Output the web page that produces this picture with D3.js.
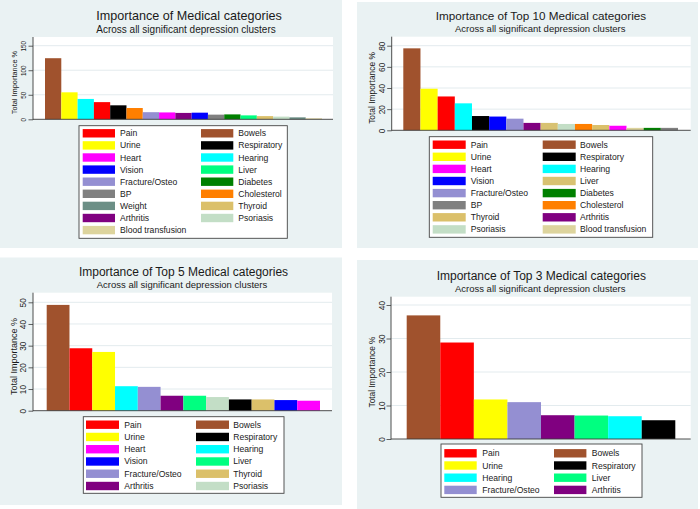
<!DOCTYPE html>
<html><head><meta charset="utf-8">
<script src="https://cdn.jsdelivr.net/npm/d3@7"></script>
<style>
html,body{margin:0;padding:0;background:#fff;}
svg{display:block;font-family:"Liberation Sans",Arial,Helvetica,sans-serif;}
</style>
</head><body>
<svg id="chart" width="700" height="509"></svg>
<script>
// ---------- DATA ----------
const titles = [
  "Importance of Medical categories",
  "Importance of Top 10 Medical categories",
  "Importance of Top 5 Medical categories",
  "Importance of Top 3 Medical categories"
];
const subtitle = "Across all significant depression clusters";
const yTitle = "Total Importance %";

const cats1 = ["Bowels","Urine","Hearing","Pain","Respiratory","Cholesterol","Fracture/Osteo","Heart","Arthritis","Vision","BP","Diabetes","Liver","Thyroid","Psoriasis","Weight","Blood transfusion"];
const vals1 = [124.5,55,41.5,35,28.5,23,14.5,14,13,13.5,9.5,10,8,6.5,5.5,4,2];
const legend1 = ["Pain","Bowels","Urine","Respiratory","Heart","Hearing","Vision","Liver","Fracture/Osteo","Diabetes","BP","Cholesterol","Weight","Thyroid","Arthritis","Psoriasis","Blood transfusion"];
const ticks1 = [0,50,100,150];

const cats2 = ["Bowels","Urine","Pain","Hearing","Respiratory","Vision","Fracture/Osteo","Arthritis","Liver","Psoriasis","Cholesterol","Thyroid","Heart","Blood transfusion","Diabetes","BP"];
const vals2 = [77.5,39.3,32,25.5,13.5,13,11,7,7,6,6,5,4.3,2.3,2.3,2.3];
const legend2 = ["Pain","Bowels","Urine","Respiratory","Heart","Hearing","Vision","Liver","Fracture/Osteo","Diabetes","BP","Cholesterol","Thyroid","Arthritis","Psoriasis","Blood transfusion"];
const ticks2 = [0,20,40,60,80];

const cats3 = ["Bowels","Pain","Urine","Hearing","Fracture/Osteo","Arthritis","Liver","Psoriasis","Respiratory","Thyroid","Vision","Heart"];
const vals3 = [48.8,28.8,27.1,11.3,11.0,6.9,6.9,6.3,5.2,5.2,4.9,4.6];
const legend3 = ["Pain","Bowels","Urine","Respiratory","Heart","Hearing","Vision","Liver","Fracture/Osteo","Thyroid","Arthritis","Psoriasis"];
const ticks3 = [0,10,20,30,40,50];

const cats4 = ["Bowels","Pain","Urine","Fracture/Osteo","Arthritis","Liver","Hearing","Respiratory"];
const vals4 = [36.9,28.8,11.8,11.0,7.1,7.0,6.8,5.6];
const legend4 = ["Pain","Bowels","Urine","Respiratory","Hearing","Liver","Fracture/Osteo","Arthritis"];
const ticks4 = [0,10,20,30,40];

// ---------- STYLE ----------
const colors = {
  "Pain":"#ff0000","Bowels":"#a0522d","Urine":"#ffff00","Respiratory":"#000000",
  "Heart":"#ff00ff","Hearing":"#00ffff","Vision":"#0000ff","Liver":"#00ff80",
  "Fracture/Osteo":"#948fd2","Diabetes":"#008000","BP":"#808080","Cholesterol":"#ff7f00",
  "Weight":"#6c8f86","Thyroid":"#dbc06a","Arthritis":"#800080","Psoriasis":"#c3dec6",
  "Blood transfusion":"#ddd49d"
};
const colorOverrides = [{}, {"Liver":"#d8c272"}, {}, {}];

// ---------- LAYOUT ----------
const layouts = [
  {bg:[0,0,342,248], plot:{l:33,r:333,t:37,b:119.3}, yTop:45.7, bars:[45,322],
   title:[189,20,12.6], sub:[186,32.7,10], ytX:14, ytSize:7.4, tlX:23.3, tlSize:6.3,
   leg:{x:79,y:125.7,w:208.3,h:112.6,row0:133.3,dy:12.1,s1:82.7,t1:120,s2:201,t2:238.3,sw:32.3}},
  {bg:[357,2,341,246], plot:{l:391.7,r:690.7,t:36.7,b:130.3}, yTop:45.7, bars:[403.3,678],
   title:[541,20,11.7], sub:[540.2,32.3,9.5], ytX:371.7, ytSize:8.4, tlX:381.7, tlSize:8.4,
   leg:{x:429.3,y:136.7,w:223.4,h:100.6,row0:144.7,dy:12.1,s1:432.7,t1:470.7,s2:542.7,t2:580,sw:33}},
  {bg:[0,257.5,342,247.5], plot:{l:33,r:332,t:292.7,b:410.7}, yTop:302.3, bars:[46.7,320],
   title:[183.5,275.7,12], sub:[182,288.3,9.5], ytX:14, ytSize:9, tlX:22.7, tlSize:8.4,
   leg:{x:83.3,y:416.7,w:200.7,h:76.6,row0:424.7,dy:12.26,s1:86,t1:124.3,s2:196,t2:233.3,sw:33}},
  {bg:[357,260,341,249], plot:{l:391,r:690.7,t:296.7,b:439}, yTop:305, bars:[406.7,675.3],
   title:[541.3,280,12], sub:[540.2,292.3,9.5], ytX:371.7, ytSize:8.3, tlX:381.7, tlSize:8.4,
   leg:{x:441,y:444,w:201,h:53.3,row0:453.3,dy:12.2,s1:444.3,t1:482.3,s2:554,t2:591.7,sw:32.4}}
];

const dataSets = [
  {cats:cats1, vals:vals1, legend:legend1, ticks:ticks1},
  {cats:cats2, vals:vals2, legend:legend2, ticks:ticks2},
  {cats:cats3, vals:vals3, legend:legend3, ticks:ticks3},
  {cats:cats4, vals:vals4, legend:legend4, ticks:ticks4}
];

const svg = d3.select("#chart");
const BG = "#eaf2f3", GRID = "#e3ebee", AXIS = "#3a3a3a", TXT = "#1a1a1a";

dataSets.forEach((ds, i) => {
  const L = layouts[i];
  const col = n => (colorOverrides[i][n] || colors[n]);
  const g = svg.append("g");

  g.append("rect").attr("x",L.bg[0]).attr("y",L.bg[1]).attr("width",L.bg[2]).attr("height",L.bg[3]).attr("fill",BG);

  // plot region
  g.append("rect").attr("x",L.plot.l).attr("y",L.plot.t)
    .attr("width",L.plot.r-L.plot.l).attr("height",L.plot.b-L.plot.t).attr("fill","#fff");

  const y = d3.scaleLinear().domain([0, d3.max(ds.ticks)]).range([L.plot.b, L.yTop]);
  const x = d3.scaleBand().domain(ds.cats).range(L.bars).padding(0);

  // grid
  g.selectAll(".grid").data(ds.ticks.filter(t=>t>0)).enter().append("line")
    .attr("x1",L.plot.l).attr("x2",L.plot.r)
    .attr("y1",d=>y(d)).attr("y2",d=>y(d))
    .attr("stroke",GRID).attr("stroke-width",1);

  // bars
  g.selectAll(".bar").data(ds.cats).enter().append("rect")
    .attr("x",d=>x(d)).attr("width",x.bandwidth())
    .attr("y",(d,k)=>y(ds.vals[k])).attr("height",(d,k)=>y(0)-y(ds.vals[k]))
    .attr("fill",d=>col(d));

  // y axis via d3.axisLeft
  const ax = g.append("g").attr("transform",`translate(${L.plot.l},0)`)
    .call(d3.axisLeft(y).tickValues(ds.ticks).tickSize(4.5).tickPadding(0).tickFormat(d3.format("d")));
  ax.select(".domain").remove();
  ax.selectAll(".tick line").attr("stroke",AXIS).attr("stroke-width",0.8);
  ax.selectAll(".tick text").remove();
  ax.selectAll(".tick").append("text")
    .attr("transform",`translate(${L.tlX - L.plot.l},0) rotate(-90)`)
    .attr("text-anchor","middle").attr("dy","0.36em")
    .attr("font-size",L.tlSize).attr("fill",TXT)
    .text(d=>d3.format("d")(d));

  // axis lines
  g.append("line").attr("x1",L.plot.l).attr("x2",L.plot.l).attr("y1",L.plot.t).attr("y2",L.plot.b+0.5)
    .attr("stroke",AXIS).attr("stroke-width",0.9);
  g.append("line").attr("x1",L.plot.l).attr("x2",L.plot.r).attr("y1",L.plot.b).attr("y2",L.plot.b)
    .attr("stroke",AXIS).attr("stroke-width",0.9);

  // y title
  const ymid = (y(0)+y(d3.max(ds.ticks)))/2;
  g.append("text").attr("transform",`translate(${L.ytX},${ymid}) rotate(-90)`)
    .attr("text-anchor","middle").attr("dy","0.36em")
    .attr("font-size",L.ytSize).attr("fill",TXT).text(yTitle);

  // titles
  g.append("text").attr("x",L.title[0]).attr("y",L.title[1]).attr("text-anchor","middle")
    .attr("font-size",L.title[2]).attr("fill",TXT).text(titles[i]);
  g.append("text").attr("x",L.sub[0]).attr("y",L.sub[1]).attr("text-anchor","middle")
    .attr("font-size",L.sub[2]).attr("fill",TXT).text(subtitle);

  // legend
  const lg = L.leg;
  g.append("rect").attr("x",lg.x).attr("y",lg.y).attr("width",lg.w).attr("height",lg.h)
    .attr("fill","#fff").attr("stroke","#444").attr("stroke-width",0.9);
  const items = g.selectAll(".li").data(ds.legend).enter().append("g")
    .attr("transform",(d,k)=>{
      const row = Math.floor(k/2), c = k%2;
      return `translate(0,${lg.row0 + row*lg.dy})`;
    });
  items.append("rect")
    .attr("x",(d,k)=> k%2===0 ? lg.s1 : lg.s2).attr("y",-4.2)
    .attr("width",lg.sw).attr("height",8.4).attr("fill",d=>col(d));
  items.append("text")
    .attr("x",(d,k)=> k%2===0 ? lg.t1 : lg.t2).attr("dy","0.35em")
    .attr("font-size",8.6).attr("fill",TXT).text(d=>d);
});
</script>
</body></html>
